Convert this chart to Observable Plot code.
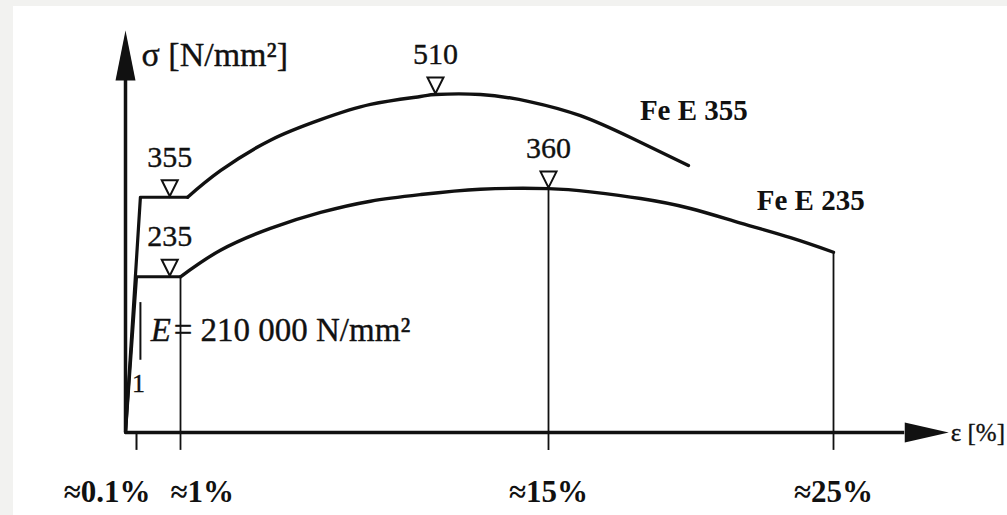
<!DOCTYPE html>
<html>
<head>
<meta charset="utf-8">
<script src="https://cdn.jsdelivr.net/npm/d3@7"></script>
<script src="https://cdn.jsdelivr.net/npm/@observablehq/plot@0.6"></script>
<style>
  html, body { margin: 0; padding: 0; background: #f2f2f0; }
  #chart { position: absolute; left: 13px; top: 6px; width: 994px; height: 509px; background: #fff; }
  svg { display: block; }
</style>
</head>
<body>
<div id="chart"></div>
<script>
// ---- data ----
const steels = ["Fe E 355", "Fe E 235"];

// elastic branch + yield plateau: strain [%], stress [N/mm²]
const fe355ElasticStrain = [0, 0.18, 1.27];
const fe355ElasticStress = [0, 355, 355];
const fe235ElasticStrain = [0, 0.1, 1];
const fe235ElasticStress = [0, 235, 235];

// strain hardening branch
const fe355HardStrain = [1.27, 2.52, 4.42, 6.33, 8.23, 10.13, 10.7, 12.41, 14.31, 16.12, 17.88, 19.91];
const fe355HardStress = [355, 395, 441, 472, 495, 507, 510, 510, 499, 478, 445, 403];
const fe235HardStrain = [1, 2.52, 4.42, 6.33, 8.23, 10.13, 12.41, 15, 16.47, 18.23, 19.98, 21.74, 23.49, 25];
const fe235HardStress = [235, 275, 308, 332, 349, 359, 367, 368, 363, 353, 338, 316, 294, 272];

// marked values
const markStrain = [0.78, 0.78, 10.7, 15];
const markStress = [355, 235, 510, 368];
const markLabels = ["355", "235", "510", "360"];

// curve name positions
const nameStrain = [20.1, 24.2];
const nameStress = [486, 350];

// x-axis ticks
const strainTicks = [0.1, 1, 15, 25];
const strainTickLabels = ["≈0.1%", "≈1%", "≈15%", "≈25%"];

// vertical reference lines (strain, top stress)
const dropStrain = [1, 15, 25];
const dropTop = [235, 368, 272];

// axes
const axisXEnd = 27.5;     // strain where x-axis line ends (arrow base)
const axisYEnd = 531;      // stress where y-axis line ends (arrow base)
const tickBelow = -27;     // ticks extend below the axis
const yLabel = "σ [N/mm²]";
const xLabel = "ε [%]";

// modulus annotation
const modulusText = "= 210 000 N/mm²";
const modulusSymbol = "E";
const modulusStrain = 0.39;
const modulusStress = 154;
const slopeStrain = 0.18;
const slopeStress = [109, 196];
const slopeUnit = "1";
const slopeUnitStrain = 0.14;
const slopeUnitStress = 74;

// ---- tables ----
const toRows = (xs, ys, steel) => xs.map((x, i) => ({strain: x, stress: ys[i], steel}));
const elasticRows = [
  ...toRows(fe355ElasticStrain, fe355ElasticStress, steels[0]),
  ...toRows(fe235ElasticStrain, fe235ElasticStress, steels[1])
];
const hardRows = [
  ...toRows(fe355HardStrain, fe355HardStress, steels[0]),
  ...toRows(fe235HardStrain, fe235HardStress, steels[1])
];
const marks = markStrain.map((x, i) => ({strain: x, stress: markStress[i], label: markLabels[i]}));
const names = steels.map((s, i) => ({strain: nameStrain[i], stress: nameStress[i], label: s}));
const ticks = strainTicks.map((x, i) => ({strain: x, label: strainTickLabels[i]}));
const drops = dropStrain.map((x, i) => ({strain: x, top: dropTop[i]}));

// ---- symbols ----
const upArrow = {draw(ctx) { ctx.moveTo(0, -50); ctx.lineTo(10, 0); ctx.lineTo(-10, 0); ctx.closePath(); }};
const rightArrow = {draw(ctx) { ctx.moveTo(44, 0); ctx.lineTo(0, -10); ctx.lineTo(0, 10); ctx.closePath(); }};
const downTri = {draw(ctx) { ctx.moveTo(-8, -17); ctx.lineTo(8, -17); ctx.lineTo(0, -1); ctx.closePath(); }};

const OX = 13, OY = 6;
const ink = "#111";
const serif = "'Liberation Serif', 'DejaVu Serif', serif";
const thick = {fill: ink, stroke: ink, strokeWidth: 0.35};

const chart = Plot.plot({
  width: 994,
  height: 509,
  margin: 0,
  style: {background: "#fff", fontFamily: serif, overflow: "visible", color: ink},
  x: {type: "linear", domain: [0, 0.1, 1, 15, 25], range: [125 - OX, 136 - OX, 180 - OX, 548 - OX, 833 - OX], axis: null},
  y: {type: "linear", domain: [0, 510], range: [432 - OY, 94 - OY], axis: null},
  marks: [
    // vertical reference lines and ticks
    Plot.ruleX(drops, {x: "strain", y1: tickBelow, y2: "top", stroke: ink, strokeWidth: 1.8}),
    Plot.ruleX(ticks.slice(0, 1), {x: "strain", y1: 0, y2: tickBelow, stroke: ink, strokeWidth: 2}),
    // axes
    Plot.ruleY([0], {x1: 0, x2: axisXEnd, stroke: ink, strokeWidth: 3.5}),
    Plot.ruleX([0], {y1: 0, y2: axisYEnd, stroke: ink, strokeWidth: 3.5}),
    Plot.dot([0], {x: 0, y: axisYEnd, symbol: upArrow, fill: ink, stroke: null}),
    Plot.dot([0], {x: axisXEnd, y: 0, symbol: rightArrow, fill: ink, stroke: null}),
    // curves
    Plot.line(elasticRows, {x: "strain", y: "stress", z: "steel", stroke: ink, strokeWidth: 3.2, curve: "linear"}),
    Plot.line(hardRows, {x: "strain", y: "stress", z: "steel", stroke: ink, strokeWidth: 3.4, curve: "natural"}),
    // markers
    Plot.dot(marks, {x: "strain", y: "stress", symbol: downTri, fill: "#fff", stroke: ink, strokeWidth: 2}),
    Plot.text(marks, {x: "strain", y: "stress", text: "label", dy: -40, fontSize: 30, ...thick}),
    // curve names
    Plot.text(names, {x: "strain", y: "stress", text: "label", fontSize: 29, fontWeight: "bold", fill: ink}),
    // tick labels
    Plot.text(ticks.slice(0, 1), {x: "strain", y: 0, text: "label", dy: 60, dx: 14, textAnchor: "end", fontSize: 31, fontWeight: "bold", fill: ink}),
    Plot.text(ticks.slice(1, 2), {x: "strain", y: 0, text: "label", dy: 60, dx: -10, textAnchor: "start", fontSize: 31, fontWeight: "bold", fill: ink}),
    Plot.text(ticks.slice(2), {x: "strain", y: 0, text: "label", dy: 60, fontSize: 31, fontWeight: "bold", fill: ink}),
    // axis titles
    Plot.text([0], {x: 0, y: axisYEnd, text: [yLabel], dx: 16, dy: -25, textAnchor: "start", fontSize: 34, ...thick}),
    Plot.text([0], {x: axisXEnd, y: 0, text: [xLabel], dx: 46, textAnchor: "start", fontSize: 25, ...thick}),
    // modulus annotation
    Plot.text([0], {x: modulusStrain, y: modulusStress, text: [modulusSymbol], textAnchor: "start", fontSize: 33, fontStyle: "italic", ...thick}),
    Plot.text([0], {x: modulusStrain, y: modulusStress, text: [modulusText], dx: 23, textAnchor: "start", fontSize: 33, ...thick}),
    Plot.ruleX([slopeStrain], {y1: slopeStress[0], y2: slopeStress[1], stroke: ink, strokeWidth: 2}),
    Plot.text([0], {x: slopeUnitStrain, y: slopeUnitStress, text: [slopeUnit], fontSize: 26, ...thick})
  ]
});
document.getElementById("chart").appendChild(chart);
</script>
</body>
</html>
